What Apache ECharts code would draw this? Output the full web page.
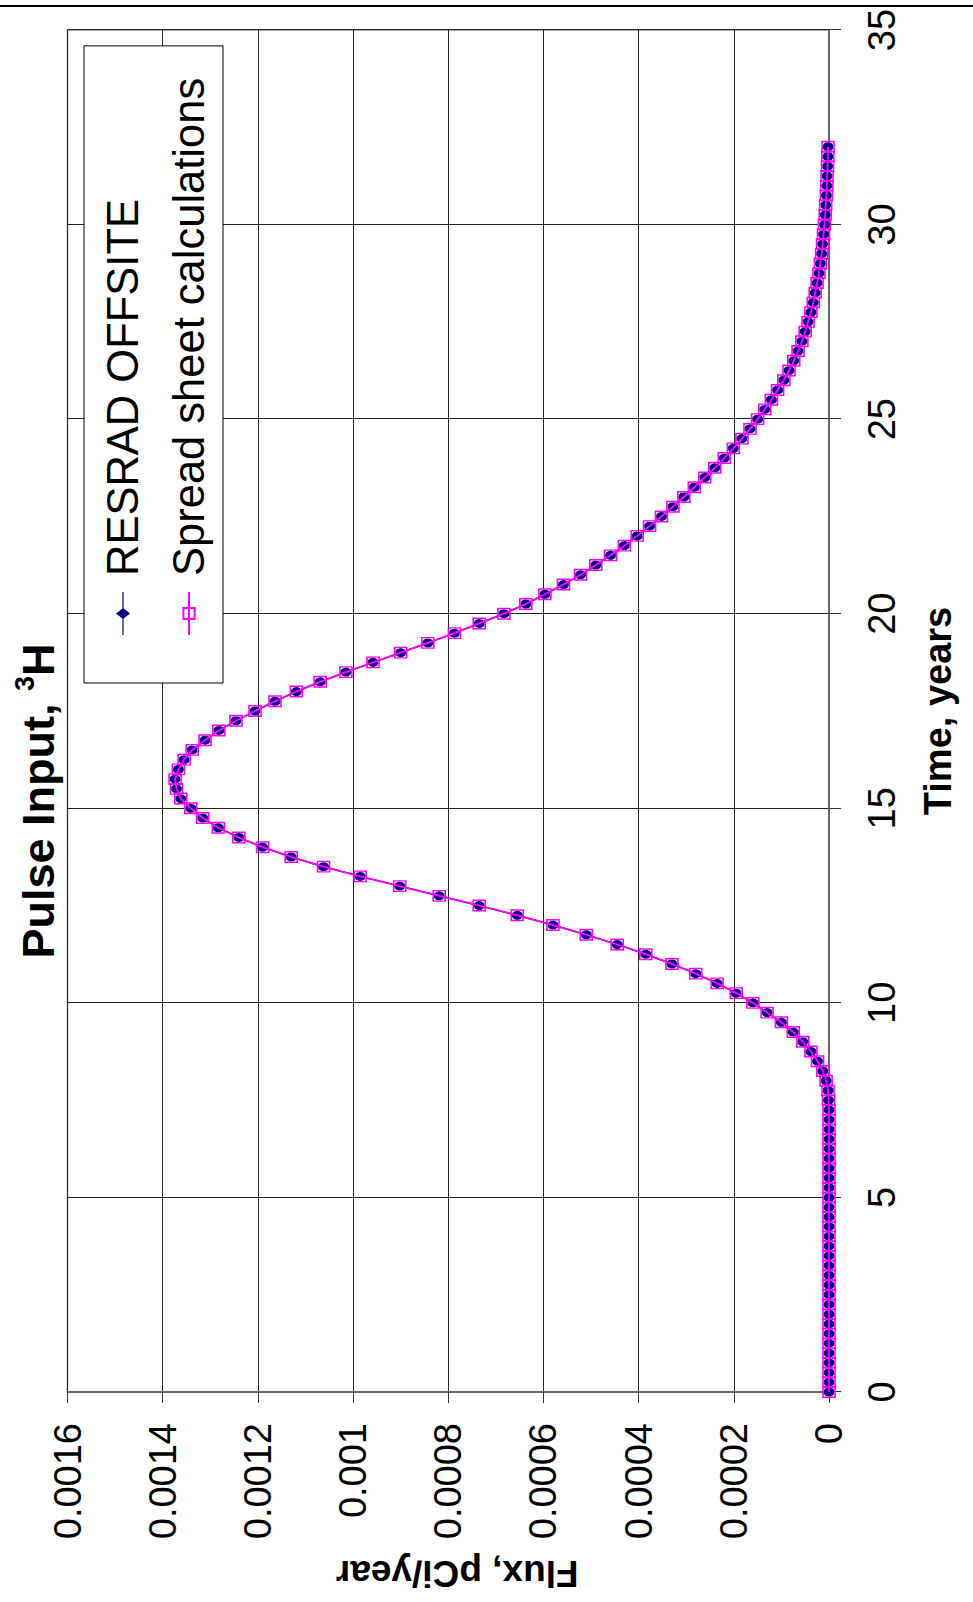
<!DOCTYPE html>
<html>
<head>
<meta charset="utf-8">
<script src="https://cdn.jsdelivr.net/npm/echarts@6/dist/echarts.min.js"></script>
<style>
html,body{margin:0;padding:0;background:#fff;overflow:hidden;width:973px;height:1602px;}
#chart{position:absolute;left:0;top:0;width:1602px;height:973px;transform-origin:0 0;transform:translate(0px,1602px) rotate(-90deg);}
</style>
</head>
<body>
<div id="chart"></div>
<script>
// ---- data ----
const timeYears = [
  0,0.25,0.5,0.75,1,1.25,1.5,1.75,2,2.25,2.5,2.75,3,3.25,3.5,3.75,
  4,4.25,4.5,4.75,5,5.25,5.5,5.75,6,6.25,6.5,6.75,7,7.25,7.5,7.75,
  8,8.25,8.5,8.75,9,9.25,9.5,9.75,10,10.25,10.5,10.75,11,11.25,11.5,11.75,
  12,12.25,12.5,12.75,13,13.25,13.5,13.75,14,14.25,14.5,14.75,15,15.25,15.5,15.75,
  16,16.25,16.5,16.75,17,17.25,17.5,17.75,18,18.25,18.5,18.75,19,19.25,19.5,19.75,
  20,20.25,20.5,20.75,21,21.25,21.5,21.75,22,22.25,22.5,22.75,23,23.25,23.5,23.75,
  24,24.25,24.5,24.75,25,25.25,25.5,25.75,26,26.25,26.5,26.75,27,27.25,27.5,27.75,
  28,28.25,28.5,28.75,29,29.25,29.5,29.75,30,30.25,30.5,30.75,31,31.25,31.5,31.75,32
];
const resradFlux = [
  0,0,0,0,0,0,0,0,0,0,0,0,0,0,0,0,
  0,0,0,0,0,0,0,0,0,0,0,0,0,0,0.000001,0.000002,
  0.000006,0.000013,0.000024,0.000038,0.000055,0.000075,0.000100,0.000130,
  0.000160,0.000195,0.000235,0.000280,0.000330,0.000385,0.000445,0.000510,
  0.000580,0.000655,0.000735,0.000819,0.000902,0.000985,0.001062,0.001130,
  0.001190,0.001240,0.001283,0.001316,0.001341,0.001362,0.001371,0.001374,
  0.001367,0.001355,0.001338,0.001311,0.001282,0.001246,0.001206,0.001164,
  0.001119,0.001069,0.001015,0.000958,0.000900,0.000843,0.000787,0.000735,
  0.000683,0.000637,0.000597,0.000558,0.000522,0.000490,0.000459,0.000430,
  0.000403,0.000377,0.000352,0.000328,0.000305,0.000283,0.000261,0.000240,
  0.000220,0.000201,0.000183,0.000166,0.000150,0.000135,0.000121,0.000108,
  0.000095,0.000084,0.000074,0.000065,0.000057,0.000050,0.000044,0.000038,
  0.000033,0.000029,0.000025,0.000021,0.000018,0.0000155,0.0000135,0.0000115,
  0.0000095,0.000008,0.000007,0.0000055,0.0000045,0.000004,0.000003,0.0000025,0.000002
];
const spreadsheetFlux = [
  0,0,0,0,0,0,0,0,0,0,0,0,0,0,0,0,
  0,0,0,0,0,0,0,0,0,0,0,0,0,0,0.000001,0.000002,
  0.000006,0.000013,0.000024,0.000038,0.000055,0.000075,0.000100,0.000130,
  0.000160,0.000195,0.000235,0.000280,0.000330,0.000385,0.000445,0.000510,
  0.000580,0.000655,0.000735,0.000819,0.000902,0.000985,0.001062,0.001130,
  0.001190,0.001240,0.001283,0.001316,0.001341,0.001362,0.001371,0.001374,
  0.001367,0.001355,0.001338,0.001311,0.001282,0.001246,0.001206,0.001164,
  0.001119,0.001069,0.001015,0.000958,0.000900,0.000843,0.000787,0.000735,
  0.000683,0.000637,0.000597,0.000558,0.000522,0.000490,0.000459,0.000430,
  0.000403,0.000377,0.000352,0.000328,0.000305,0.000283,0.000261,0.000240,
  0.000220,0.000201,0.000183,0.000166,0.000150,0.000135,0.000121,0.000108,
  0.000095,0.000084,0.000074,0.000065,0.000057,0.000050,0.000044,0.000038,
  0.000033,0.000029,0.000025,0.000021,0.000018,0.0000155,0.0000135,0.0000115,
  0.0000095,0.000008,0.000007,0.0000055,0.0000045,0.000004,0.000003,0.0000025,0.000002
];
const seriesNames = ['RESRAD OFFSITE', 'Spread sheet calculations'];
const timeTicks = { min: 0, max: 35, step: 5 };
const fluxTicks = { min: 0, max: 0.0016, step: 0.0002 };
const titleMain = 'Pulse Input, ';
const titleSup = '3';
const titleEnd = 'H';
const xName = 'Time, years';
const yName = 'Flux, pCi/year';

// ---- chart ----
const FONT = '"Liberation Sans", Arial, sans-serif';
const chart = echarts.init(document.getElementById('chart'), null, { renderer: 'svg', width: 1602, height: 973 });

const pairs = (xs, ys) => xs.map((x, i) => [x, ys[i]]);
// legend icon: line with a diamond in the middle
const diamondLineIcon = 'path://M0,6.4 L16.5,6.4 L21.5,0 L26.5,6.4 L43,6.4 L43,7.6 L26.5,7.6 L21.5,14 L16.5,7.6 L0,7.6 Z';

chart.setOption({
  animation: false,
  backgroundColor: '#fff',
  title: {
    text: '{a|' + titleMain + '}{s|' + titleSup + '}{a|' + titleEnd + '}',
    left: 'center',
    top: 6,
    textStyle: {
      rich: {
        a: { fontSize: 45, fontWeight: 'bold', fontFamily: FONT, color: '#000', lineHeight: 54 },
        s: { fontSize: 27, fontWeight: 'bold', fontFamily: FONT, color: '#000', lineHeight: 54, verticalAlign: 'top' }
      }
    }
  },
  legend: {
    orient: 'vertical',
    left: 919,
    top: 84,
    padding: [14, 32, 9, 47],
    itemGap: 16,
    itemWidth: 43,
    itemHeight: 14,
    borderColor: '#000',
    borderWidth: 1,
    backgroundColor: '#fff',
    textStyle: { fontSize: 43.5, fontFamily: FONT, color: '#000', lineHeight: 50, padding: [0, 0, 0, 11] },
    data: [
      { name: seriesNames[0], icon: diamondLineIcon, itemStyle: { color: '#000080' } },
      { name: seriesNames[1] }
    ]
  },
  grid: {
    left: 210, right: 30, top: 67.5, bottom: 144,
    show: true, borderColor: '#888', borderWidth: 1.5, backgroundColor: 'transparent'
  },
  xAxis: {
    type: 'value',
    min: timeTicks.min, max: timeTicks.max, interval: timeTicks.step,
    name: xName, nameLocation: 'middle', nameGap: 90,
    nameTextStyle: { fontSize: 38, fontWeight: 'bold', fontFamily: FONT, color: '#000' },
    axisLine: { show: true, lineStyle: { color: '#666', width: 2 } },
    axisTick: { show: true, length: 12, lineStyle: { color: '#333', width: 1 } },
    axisLabel: { fontSize: 38, fontFamily: FONT, color: '#000', margin: 34 },
    splitLine: { show: true, lineStyle: { color: '#222', width: 1 } }
  },
  yAxis: {
    type: 'value',
    min: fluxTicks.min, max: fluxTicks.max, interval: fluxTicks.step,
    name: yName, nameLocation: 'middle', nameRotate: 90, nameGap: 163,
    nameTextStyle: { fontSize: 37, fontWeight: 'bold', fontFamily: FONT, color: '#000', padding: [0, 18, 0, 0] },
    axisLine: { show: true, lineStyle: { color: '#666', width: 2 } },
    axisTick: { show: true, length: 11, lineStyle: { color: '#333', width: 1 } },
    axisLabel: {
      fontSize: 38, fontFamily: FONT, color: '#000', margin: 31,
      formatter: v => String(parseFloat(v.toFixed(4)))
    },
    splitLine: { show: true, lineStyle: { color: '#222', width: 1 } }
  },
  graphic: [
    { type: 'line', shape: { x1: 1596, y1: 0, x2: 1596, y2: 973 }, style: { stroke: '#000', lineWidth: 2 }, silent: true }
  ],
  series: [
    {
      name: seriesNames[0], type: 'line', data: pairs(timeYears, resradFlux),
      symbol: 'circle', symbolSize: [9, 11], showAllSymbol: true,
      itemStyle: { color: '#000080' },
      lineStyle: { color: '#000080', width: 1.5 },
      z: 2
    },
    {
      name: seriesNames[1], type: 'line', data: pairs(timeYears, spreadsheetFlux),
      symbol: 'rect', symbolSize: [10.5, 12], showAllSymbol: true,
      itemStyle: { color: 'rgba(255,255,255,0)', borderColor: '#FF00FF', borderWidth: 1.5 },
      lineStyle: { color: '#FF00FF', width: 1.8 },
      z: 3
    }
  ]
});
</script>
</body>
</html>
